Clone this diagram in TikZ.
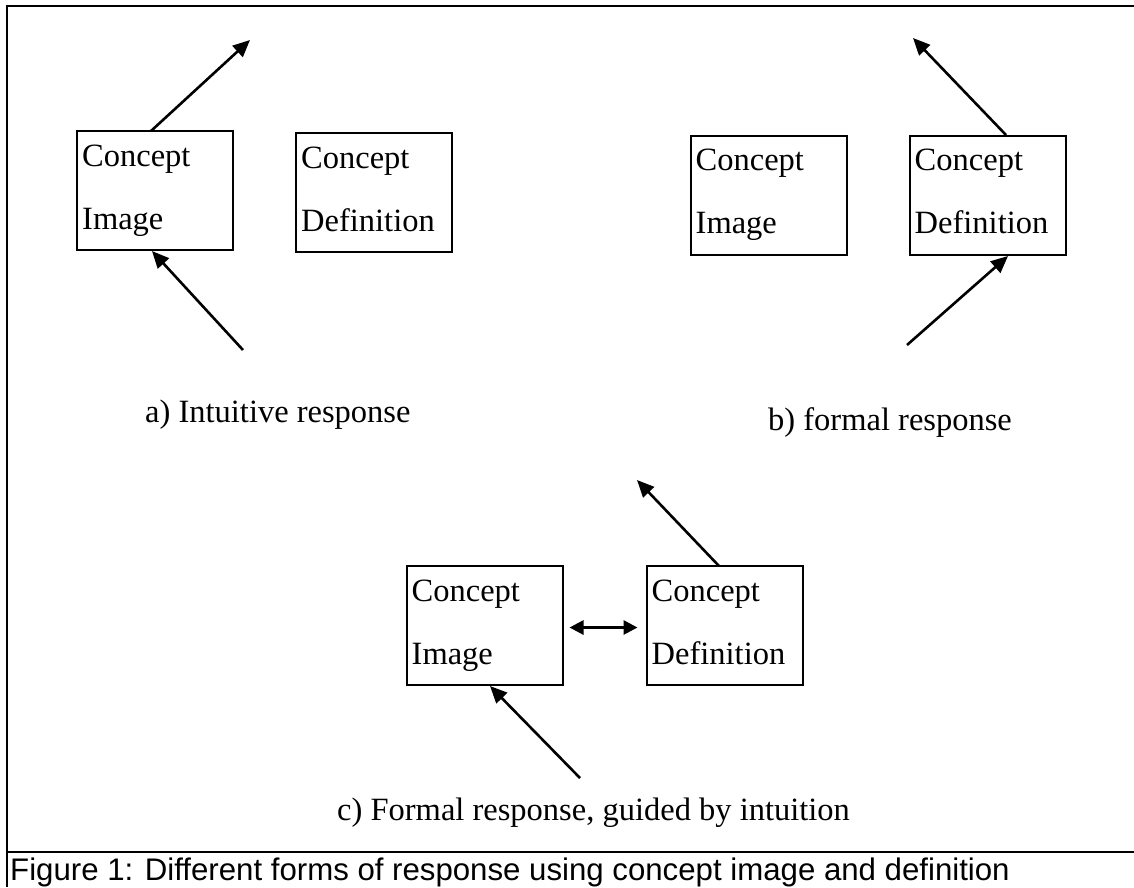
\documentclass[tikz,border=0pt]{standalone}
\usepackage{fontspec}
\setmainfont{Liberation Serif}
\newfontfamily\capfont{Liberation Sans}
\usetikzlibrary{arrows.meta,calc}
\begin{document}
\begin{tikzpicture}[x=1pt,y=-1pt,
  frame/.style={line width=2.6pt},
  cbox/.style={draw,line width=2pt,rectangle,inner sep=0pt,minimum width=156pt,minimum height=119pt},
  btext/.style={anchor=base west,inner sep=0pt,font=\fontsize{32.5}{36}\selectfont},
  lbl/.style={anchor=base west,inner sep=0pt,font=\fontsize{32.5}{36}\selectfont},
  arr/.style={line width=2.6pt,-{Triangle[length=17pt,width=15pt]}},
  darr/.style={line width=2.8pt,{Triangle[length=14pt,width=14pt]}-{Triangle[length=14pt,width=14pt]}}
]
\useasboundingbox (0,0) rectangle (1134,887);
\fill[white] (0,0) rectangle (1134,887);
% frame
\draw[frame] (7,6) -- (1134,6);
\draw[frame] (7,4.7) -- (7,887);
\draw[frame] (7,852) -- (1134,852);
% boxes
\node[cbox] (aI) at (155,190.5) {};
\node[cbox] (aD) at (374,192.5) {};
\node[cbox] (bI) at (768.5,195) {};
\node[cbox] (bD) at (987.5,195) {};
\node[cbox] (cI) at (484.5,625.5) {};
\node[cbox] (cD) at (724.5,625.5) {};
% box texts
\foreach \b/\w in {aI/Image,aD/Definition,bI/Image,bD/Definition,cI/Image,cD/Definition}{
  \node[btext] (\b c) at ($(\b.north west)+(6,36)$) {Concept};
  \node[btext] (\b w) at ($(\b.north west)+(6,99)$) {\w};
}
% labels
\node[lbl] (la) at (145,422) {a) Intuitive response};
\node[lbl] (lb) at (768,430) {b) formal response};
\node[lbl] (lc) at (337,820) {c) Formal response, guided by intuition};
\node[anchor=base west,inner sep=0pt,font=\capfont\fontsize{31.2}{34}\selectfont] (cap) at (10,880) {Figure 1: Different forms of response using concept image and definition};
% free ends
\coordinate (aout) at (250,40);
\coordinate (ain) at (243,350);
\coordinate (bout) at (913,38);
\coordinate (bin) at (907,345);
\coordinate (cout) at (637,480);
\coordinate (cin) at (580,778);
\coordinate (aIt) at (151,131);
\coordinate (aIb) at (152,251);
\coordinate (bDt) at (1006,135);
\coordinate (bDb) at (1008,256);
\coordinate (cDt) at (719,566);
\coordinate (cIb) at (490,686);
% arrows
\draw[arr] (aIt) -- (aout);
\draw[arr] (ain) -- (aIb);
\draw[arr] (bDt) -- (bout);
\draw[arr] (bin) -- (bDb);
\draw[arr] (cDt) -- (cout);
\draw[arr] (cin) -- (cIb);
\draw[darr] ($(cI.east)+(6,2)$) -- ($(cD.west)+(-8,2)$);
\end{tikzpicture}
\end{document}
